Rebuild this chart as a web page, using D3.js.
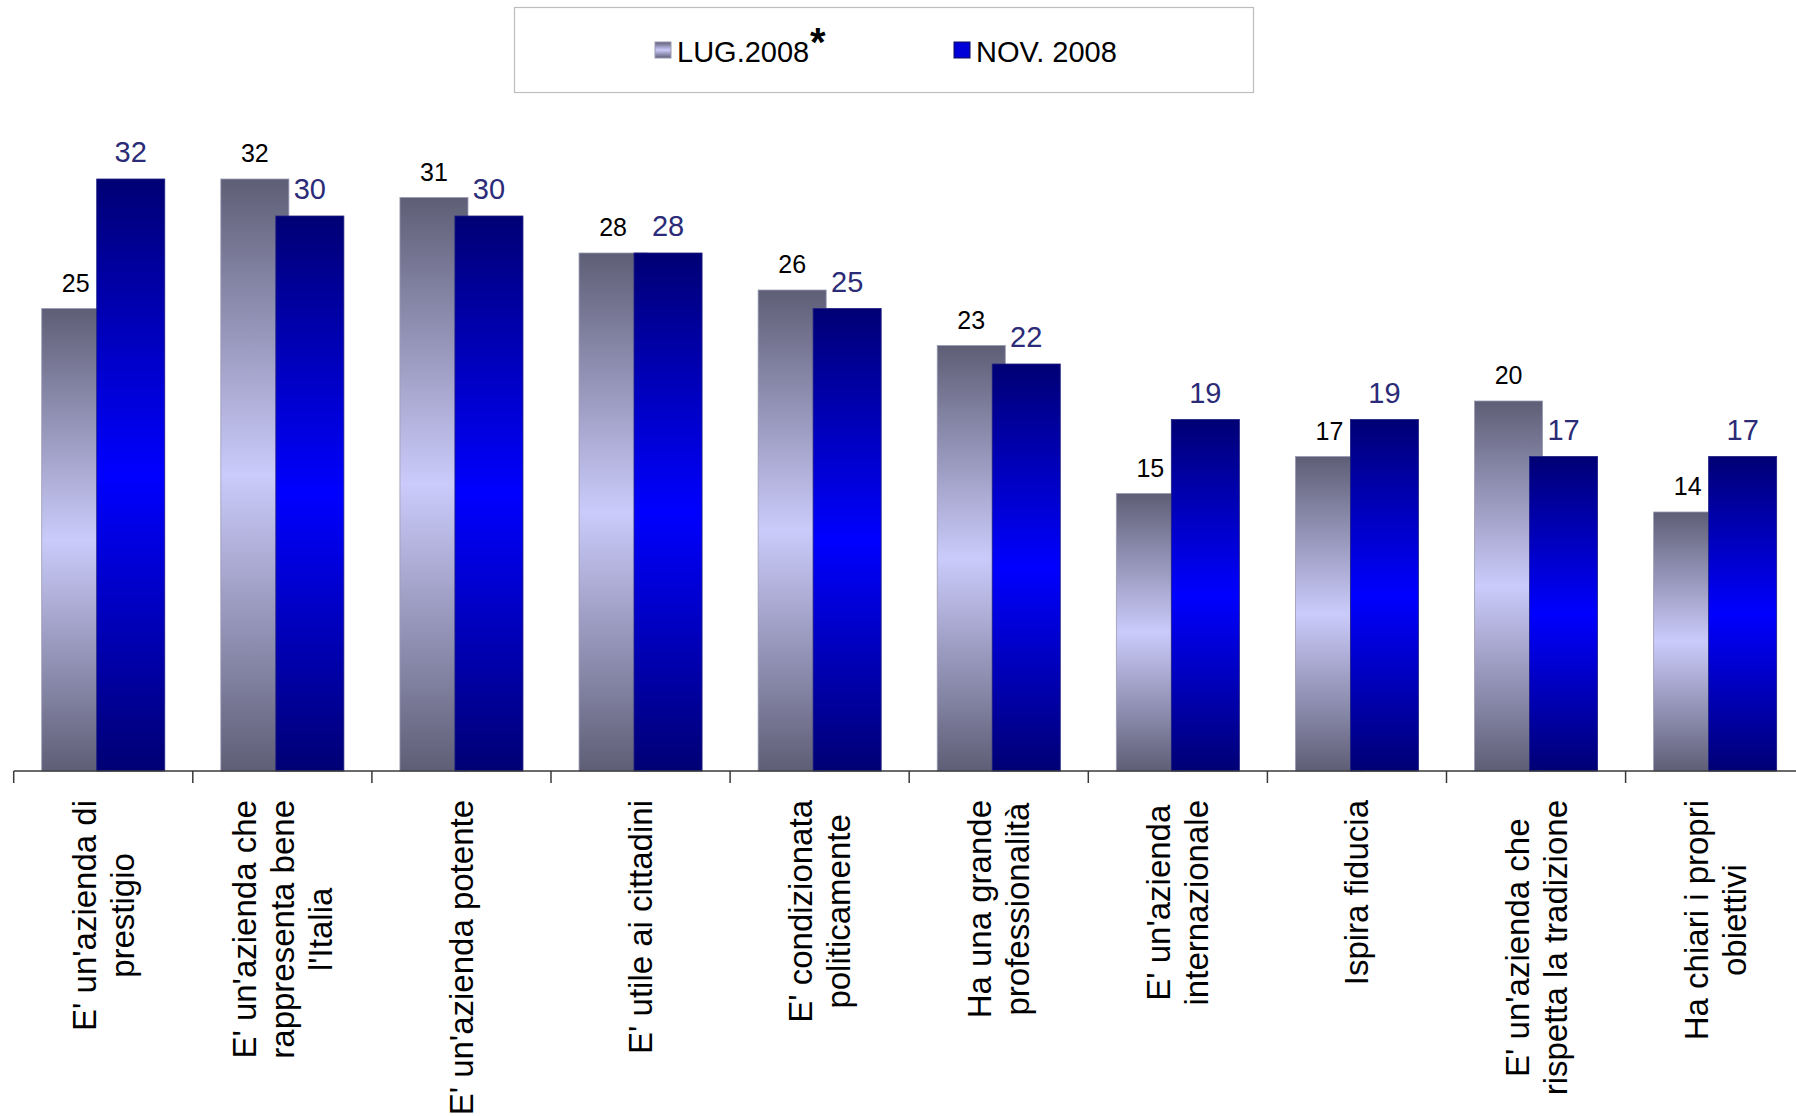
<!DOCTYPE html>
<html>
<head>
<meta charset="utf-8">
<script src="https://cdn.jsdelivr.net/npm/d3@7"></script>
<style>
  html, body { margin: 0; padding: 0; background: #ffffff; }
  svg { display: block; font-family: "Liberation Sans", Arial, sans-serif; }
</style>
</head>
<body>
<svg id="chart" width="1796" height="1116"></svg>
<script>
// Category labels (split into the lines shown under the axis)
const categories = [
  ["E' un'azienda di", "prestigio"],
  ["E' un'azienda che", "rappresenta bene", "l'Italia"],
  ["E' un'azienda potente"],
  ["E' utile ai cittadini"],
  ["E' condizionata", "politicamente"],
  ["Ha una grande", "professionalità"],
  ["E' un'azienda", "internazionale"],
  ["Ispira fiducia"],
  ["E' un'azienda che", "rispetta la tradizione"],
  ["Ha chiari i propri", "obiettivi"]
];
const seriesNames = ["LUG.2008", "NOV. 2008"];
const lug2008 = [25, 32, 31, 28, 26, 23, 15, 17, 20, 14];
const nov2008 = [32, 30, 30, 28, 25, 22, 19, 19, 17, 17];

const svg = d3.select("#chart");
const W = 1796, H = 1116;
const baseY = 771;
const keys = categories.map((c, i) => "c" + i);

const x = d3.scaleBand().domain(keys).range([13.7, 13.7 + 179.1 * 10]).padding(0);
const y = d3.scaleLinear().domain([0, 35]).range([baseY, baseY - 35 * 18.5]);

const step = x.step();
const barW = step * 0.38;      // each bar
const shift = step * 0.307;    // second bar overlaps the first
const groupW = shift + barW;
const lead = (step - groupW) / 2;

// Gradients: dark at the ends, light in the middle
const defs = svg.append("defs");
function vGrad(id, edge, mid) {
  const g = defs.append("linearGradient").attr("id", id)
    .attr("x1", 0).attr("y1", 0).attr("x2", 0).attr("y2", 1);
  g.append("stop").attr("offset", "0%").attr("stop-color", edge);
  g.append("stop").attr("offset", "50%").attr("stop-color", mid);
  g.append("stop").attr("offset", "100%").attr("stop-color", edge);
}
vGrad("gLug", "#5e5e76", "#cbcbfb");
vGrad("gNov", "#000074", "#0000ff");

const plot = svg.append("g");

// LUG.2008 bars (drawn first, partly covered by NOV bars)
plot.selectAll("rect.lug").data(lug2008).join("rect")
  .attr("class", "lug")
  .attr("x", (d, i) => x(keys[i]) + lead)
  .attr("y", d => y(d))
  .attr("width", barW)
  .attr("height", d => baseY - y(d))
  .attr("fill", "url(#gLug)")
  .attr("stroke", "#9a9ab4").attr("stroke-width", 0.8);

plot.selectAll("rect.nov").data(nov2008).join("rect")
  .attr("class", "nov")
  .attr("x", (d, i) => x(keys[i]) + lead + shift)
  .attr("y", d => y(d))
  .attr("width", barW)
  .attr("height", d => baseY - y(d))
  .attr("fill", "url(#gNov)")
  .attr("stroke", "#202080").attr("stroke-width", 0.8);

// Value labels
plot.selectAll("text.vlug").data(lug2008).join("text")
  .attr("class", "vlug")
  .attr("x", (d, i) => x(keys[i]) + lead + barW / 2)
  .attr("y", d => y(d) - 17)
  .attr("text-anchor", "middle")
  .attr("font-size", 25)
  .attr("fill", "#000000")
  .text(d => d);

plot.selectAll("text.vnov").data(nov2008).join("text")
  .attr("class", "vnov")
  .attr("x", (d, i) => x(keys[i]) + lead + shift + barW / 2)
  .attr("y", d => y(d) - 17)
  .attr("text-anchor", "middle")
  .attr("font-size", 29)
  .attr("fill", "#2b2b78")
  .text(d => d);

// Category axis
const axis = svg.append("g");
axis.append("line")
  .attr("x1", x.range()[0]).attr("x2", W)
  .attr("y1", baseY).attr("y2", baseY)
  .attr("stroke", "#3a3a3a").attr("stroke-width", 1.5);
axis.selectAll("line.tick").data(keys).join("line")
  .attr("class", "tick")
  .attr("x1", d => x(d)).attr("x2", d => x(d))
  .attr("y1", baseY).attr("y2", baseY + 12)
  .attr("stroke", "#3a3a3a").attr("stroke-width", 1.5);

// Rotated, multi-line category labels; lines centred on each other, block ending at a common top
const labelTop = 800;
const lineH = 38;
const fontSize = 33;
categories.forEach((lines, i) => {
  const cx = x(keys[i]) + step / 2;
  const g = axis.append("g");
  const texts = lines.map(t => g.append("text")
    .attr("font-size", fontSize)
    .attr("fill", "#000000")
    .attr("text-anchor", "middle")
    .text(t));
  const maxLen = d3.max(texts, t => t.node().getComputedTextLength());
  const n = lines.length;
  texts.forEach((t, j) => {
    const bx = cx + (j - (n - 1) / 2) * lineH + 11.5;
    t.attr("transform", `translate(${bx},${labelTop + maxLen / 2}) rotate(-90)`);
  });
});

// Legend
const legend = svg.append("g");
legend.append("rect")
  .attr("x", 514.5).attr("y", 7.5).attr("width", 739).attr("height", 85)
  .attr("fill", "#ffffff").attr("stroke", "#bdbdbd").attr("stroke-width", 1.2);

const legendItems = [
  { name: seriesNames[0], sx: 655, fill: "url(#gLug)", stroke: "#9a9ab4" },
  { name: seriesNames[1], sx: 954, fill: "#0000d8", stroke: "#10105a" }
];
legendItems.forEach(it => {
  legend.append("rect")
    .attr("x", it.sx).attr("y", 42).attr("width", 16).attr("height", 16)
    .attr("fill", it.fill).attr("stroke", it.stroke).attr("stroke-width", 1);
  legend.append("text")
    .attr("x", it.sx + 22).attr("y", 62)
    .attr("font-size", 29).attr("fill", "#000000")
    .text(it.name);
});
legend.append("text")
  .attr("x", 810).attr("y", 56)
  .attr("font-size", 40).attr("font-weight", "bold").attr("fill", "#000000")
  .text("*");
</script>
</body>
</html>
